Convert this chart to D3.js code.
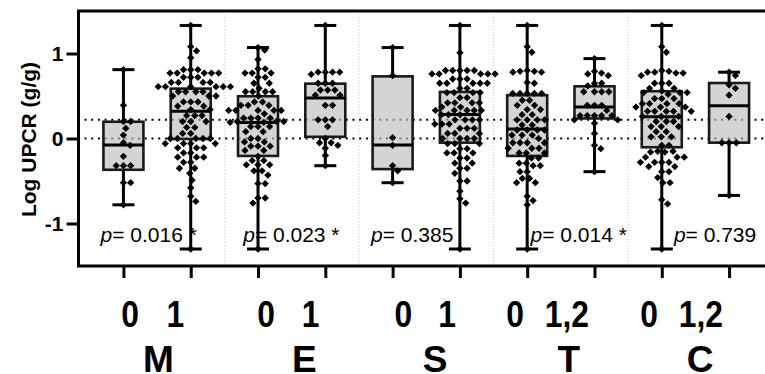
<!DOCTYPE html>
<html>
<head>
<meta charset="utf-8">
<script src="https://cdn.jsdelivr.net/npm/d3@7"></script>
<style>
  body { margin: 0; background: #fff; }
  svg { display: block; font-family: "Liberation Sans", Arial, sans-serif; }
</style>
</head>
<body>
<svg id="chart" width="765" height="374"></svg>
<script>
// groups and labels
const groups = ["M", "E", "S", "T", "C"]
const lowLabels = ["0", "0", "0", "0", "0"]
const highLabels = ["1", "1", "1", "1,2", "1,2"]
const pValues = ["0.016 *", "0.023 *", "0.385", "0.014 *", "0.739"]
const yTicks = [-1, 0, 1]
const refLines = [0, 0.22]

// box statistics, one per column (M0, M1, E0, E1, S0, S1, T0, T1, C0, C1)
const q1 = [-0.368, -0.006, -0.205, 0.02, -0.36, -0.049, -0.205, 0.236, -0.103, -0.049]
const median = [-0.076, 0.322, 0.189, 0.477, -0.076, 0.283, 0.111, 0.372, 0.255, 0.384]
const q3 = [0.197, 0.587, 0.497, 0.645, 0.731, 0.548, 0.509, 0.614, 0.556, 0.653]

// individual values (log UPCR), whiskers go from min to max
const m0 = [0.81, 0.39, 0.2, 0.2, 0.12, 0.04, -0.05, -0.08, -0.21, -0.32, -0.32, -0.32, -0.52, -0.52, -0.78]
const m1 = [1.33, 1.08, 1.03, 0.95, 0.81, 0.81, 0.81, 0.77, 0.77, 0.77, 0.77, 0.77, 0.72, 0.72, 0.72,
  0.66, 0.66, 0.66, 0.66, 0.61, 0.61, 0.61, 0.61, 0.61, 0.61, 0.55, 0.55, 0.55, 0.55, 0.5, 0.5, 0.5,
  0.43, 0.43, 0.43, 0.38, 0.38, 0.34, 0.34, 0.27, 0.27, 0.27, 0.2, 0.2, 0.2, 0.13, 0.13, 0.06, 0.06,
  0, 0, 0, 0, 0, -0.06, -0.06, -0.06, -0.06, -0.11, -0.11, -0.11, -0.17, -0.17, -0.22, -0.22, -0.22,
  -0.28, -0.28, -0.35, -0.35, -0.41, -0.49, -0.58, -0.68, -0.74, -1.3]
const e0 = [1.07, 1.04, 0.93, 0.82, 0.82, 0.77, 0.77, 0.77, 0.72, 0.72, 0.65, 0.65, 0.59, 0.55, 0.55,
  0.55, 0.55, 0.5, 0.43, 0.43, 0.39, 0.39, 0.39, 0.33, 0.33, 0.33, 0.33, 0.33, 0.29, 0.24, 0.24, 0.24,
  0.24, 0.19, 0.19, 0.2, 0.2, 0.2, 0.14, 0.14, 0.14, 0.08, 0.08, 0, 0, -0.04, -0.04, -0.09, -0.09, -0.09,
  -0.14, -0.14, -0.21, -0.26, -0.26, -0.31, -0.31, -0.31, -0.38, -0.38, -0.43, -0.53, -0.53, -0.7, -0.7,
  -0.76, -1.3]
const e1 = [1.33, 0.78, 0.78, 0.78, 0.78, 0.755, 0.65, 0.65, 0.65, 0.57, 0.57, 0.57, 0.51, 0.51, 0.39,
  0.39, 0.22, 0.22, 0.22, 0.14, 0, -0.05, -0.05, -0.08, -0.115, -0.2, -0.32]
const s0 = [1.07, 0.74, 0.01, -0.08, -0.32, -0.38, -0.52]
const s1 = [1.33, 1.01, 0.8, 0.8, 0.8, 0.8, 0.8, 0.76, 0.76, 0.76, 0.76, 0.76, 0.7, 0.7, 0.7, 0.65, 0.65,
  0.65, 0.65, 0.65, 0.59, 0.59, 0.54, 0.54, 0.54, 0.54, 0.48, 0.48, 0.42, 0.42, 0.42, 0.42, 0.37, 0.37,
  0.33, 0.33, 0.33, 0.33, 0.33, 0.28, 0.28, 0.28, 0.22, 0.22, 0.22, 0.22, 0.17, 0.17, 0.17, 0.12, 0.12,
  0.12, 0.06, 0.06, 0.06, 0, 0, 0, 0, -0.06, -0.06, -0.06, -0.12, -0.12, -0.17, -0.17, -0.17, -0.23,
  -0.23, -0.29, -0.29, -0.35, -0.35, -0.41, -0.5, -0.5, -0.62, -0.71, -0.76, -1.3]
const t0 = [1.33, 1.08, 1.015, 0.8, 0.79, 0.78, 0.78, 0.79, 0.66, 0.65, 0.53, 0.53, 0.53, 0.53, 0.53,
  0.45, 0.45, 0.39, 0.39, 0.34, 0.34, 0.28, 0.28, 0.22, 0.22, 0.22, 0.22, 0.16, 0.16, 0.1, 0.1, 0.1, 0.1,
  0.04, 0.04, 0.04, 0, -0.05, -0.05, -0.05, -0.05, -0.115, -0.115, -0.115, -0.17, -0.17, -0.17, -0.23,
  -0.23, -0.29, -0.29, -0.32, -0.32, -0.39, -0.39, -0.47, -0.47, -0.52, -0.52, -0.68, -0.73, -0.78, -1.3]
const t1 = [0.94, 0.79, 0.77, 0.76, 0.74, 0.65, 0.65, 0.62, 0.55, 0.55, 0.55, 0.55, 0.39, 0.39, 0.39,
  0.33, 0.27, 0.27, 0.27, 0.27, 0.27, 0.22, 0.22, 0.18, 0.06, -0.08, -0.12, -0.39]
const c0 = [1.33, 1.08, 1.015, 0.8, 0.79, 0.78, 0.77, 0.77, 0.78, 0.74, 0.65, 0.65, 0.65, 0.59, 0.59,
  0.54, 0.54, 0.52, 0.54, 0.56, 0.47, 0.47, 0.47, 0.41, 0.41, 0.41, 0.41, 0.37, 0.37, 0.37, 0.32, 0.32,
  0.32, 0.32, 0.32, 0.26, 0.26, 0.26, 0.2, 0.2, 0.2, 0.14, 0.14, 0.14, 0.08, 0.08, 0.02, 0.02, 0.02,
  -0.08, -0.08, -0.15, -0.16, -0.15, -0.16, -0.22, -0.22, -0.22, -0.28, -0.28, -0.28, -0.28, -0.33,
  -0.33, -0.39, -0.39, -0.46, -0.52, -0.52, -0.72, -0.77, -1.3]
const c1 = [0.78, 0.74, 0.63, 0.59, 0.51, 0.26, -0.05, -0.05, -0.05, -0.67]

const columns = [m0, m1, e0, e1, s0, s1, t0, t1, c0, c1]

// label anchors, in column units (0 = first column)
const pAt = [-0.34, 1.78, 3.68, 6.05, 8.18]
const lowAt = [0.1, 2.12, 4.16, 5.82, 7.81]
const highAt = [0.77, 2.78, 4.81, 6.59, 8.58]
const groupAt = [0.52, 2.69, 4.63, 6.62, 8.57]

const svg = d3.select("#chart")
const plotLeft = 78.5, plotRight = 776, plotTop = 11, plotBottom = 266
const boxW = 40, capW = 22, dotD = 7.2

const keys = d3.range(columns.length)
const x = d3.scalePoint().domain(keys).range([78, 774.5]).padding(0.675)
const xi = d3.scaleLinear().domain([0, keys.length - 1]).range([x(0), x(keys.length - 1)])
const y = d3.scaleLinear().domain([-1.5, 1.5]).range([plotBottom, plotTop])

/* group separators */
svg.append("g").selectAll("line")
  .data([1, 3, 5, 7])
  .enter().append("line")
  .attr("x1", d => (x(d) + x(d + 1)) / 2).attr("x2", d => (x(d) + x(d + 1)) / 2)
  .attr("y1", plotTop).attr("y2", plotBottom)
  .attr("stroke", "#c8c8c8").attr("stroke-width", 1).attr("stroke-dasharray", "1 2")

/* dotted reference lines */
svg.append("g").selectAll("line")
  .data(refLines)
  .enter().append("line")
  .attr("x1", plotLeft + 6).attr("x2", plotRight)
  .attr("y1", d => y(d)).attr("y2", d => y(d))
  .attr("stroke", "#000").attr("stroke-width", 2).attr("stroke-dasharray", "2 4.7")

/* boxes */
const box = svg.append("g").selectAll("g")
  .data(keys)
  .enter().append("g")

box.append("line")
  .attr("x1", d => x(d)).attr("x2", d => x(d))
  .attr("y1", d => y(d3.max(columns[d]))).attr("y2", d => y(q3[d]))
  .attr("stroke", "#000").attr("stroke-width", 3)
box.append("line")
  .attr("x1", d => x(d)).attr("x2", d => x(d))
  .attr("y1", d => y(q1[d])).attr("y2", d => y(d3.min(columns[d])))
  .attr("stroke", "#000").attr("stroke-width", 3)
box.append("line")
  .attr("x1", d => x(d) - capW / 2).attr("x2", d => x(d) + capW / 2)
  .attr("y1", d => y(d3.max(columns[d]))).attr("y2", d => y(d3.max(columns[d])))
  .attr("stroke", "#000").attr("stroke-width", 3)
box.append("line")
  .attr("x1", d => x(d) - capW / 2).attr("x2", d => x(d) + capW / 2)
  .attr("y1", d => y(d3.min(columns[d]))).attr("y2", d => y(d3.min(columns[d])))
  .attr("stroke", "#000").attr("stroke-width", 3)
box.append("rect")
  .attr("x", d => x(d) - boxW / 2).attr("width", boxW)
  .attr("y", d => y(q3[d])).attr("height", d => y(q1[d]) - y(q3[d]))
  .attr("fill", "#bdbdbd").attr("fill-opacity", 0.65)
  .attr("stroke", "#1a1a1a").attr("stroke-width", 2.6)
box.append("line")
  .attr("x1", d => x(d) - boxW / 2).attr("x2", d => x(d) + boxW / 2)
  .attr("y1", d => y(median[d])).attr("y2", d => y(median[d]))
  .attr("stroke", "#000").attr("stroke-width", 3)

/* points, spread sideways so they do not overlap */
function swarm(values) {
  const placed = []
  values.slice().sort((a, b) => b - a).forEach(v => {
    const py = y(v)
    const near = placed.filter(p => Math.abs(p.py - py) < dotD)
    const cands = [0]
    near.forEach(p => {
      const dx = Math.sqrt(dotD * dotD - (p.py - py) ** 2)
      cands.push(p.dx + dx, p.dx - dx)
    })
    cands.sort((a, b) => Math.abs(a) - Math.abs(b))
    const dx = cands.find(c => near.every(p => (p.dx - c) ** 2 + (p.py - py) ** 2 >= dotD * dotD - 0.01))
    placed.push({ v, py, dx })
  })
  return placed
}

const diamond = d3.symbol().type(d3.symbolSquare).size(27)
keys.forEach(k => {
  svg.append("g").selectAll("path")
    .data(swarm(columns[k]))
    .enter().append("path")
    .attr("d", diamond)
    .attr("transform", d => "translate(" + (x(k) + d.dx) + "," + d.py + ") rotate(45)")
    .attr("fill", "#000")
})

/* frame */
svg.append("rect")
  .attr("x", plotLeft).attr("y", plotTop)
  .attr("width", plotRight - plotLeft).attr("height", plotBottom - plotTop)
  .attr("fill", "none").attr("stroke", "#000").attr("stroke-width", 3)

/* axes */
const yAxis = svg.append("g")
  .attr("transform", "translate(" + plotLeft + ",0)")
  .call(d3.axisLeft(y).tickValues(yTicks).tickSize(12).tickPadding(3).tickFormat(d => d))
yAxis.select(".domain").remove()
yAxis.selectAll("line").attr("stroke-width", 3)
yAxis.selectAll("text")
  .attr("font-size", 21).attr("font-weight", "bold")
  .attr("font-family", "Liberation Sans, Arial, sans-serif")
  .attr("fill", "#000")

const xAxis = svg.append("g")
  .attr("transform", "translate(0," + plotBottom + ")")
  .call(d3.axisBottom(x).tickSize(12).tickFormat(""))
xAxis.select(".domain").remove()
xAxis.selectAll("line").attr("stroke-width", 3)

svg.append("text")
  .attr("transform", "translate(35.5,139.5) rotate(-90)")
  .attr("text-anchor", "middle")
  .attr("font-size", 21).attr("font-weight", "bold")
  .text("Log UPCR (g/g)")

/* x labels: the digit row is set a little condensed */
const lab = svg.append("g").attr("font-weight", "bold").attr("font-size", 37).attr("text-anchor", "middle")
lab.selectAll(".low").data(lowLabels).enter().append("text")
  .attr("transform", (d, i) => "translate(" + xi(lowAt[i]) + ",327) scale(0.86,1)").text(d => d)
lab.selectAll(".high").data(highLabels).enter().append("text")
  .attr("transform", (d, i) => "translate(" + xi(highAt[i]) + ",327) scale(0.86,1)").text(d => d)
lab.selectAll(".grp").data(groups).enter().append("text")
  .attr("x", (d, i) => xi(groupAt[i])).attr("y", 371.5).text(d => d)

/* p values */
const pt = svg.append("g").selectAll("text")
  .data(pValues)
  .enter().append("text")
  .attr("x", (d, i) => xi(pAt[i])).attr("y", 242)
  .attr("font-size", 21)
pt.append("tspan").attr("font-style", "italic").text("p")
pt.append("tspan").text(d => "= " + d)
</script>
</body>
</html>
